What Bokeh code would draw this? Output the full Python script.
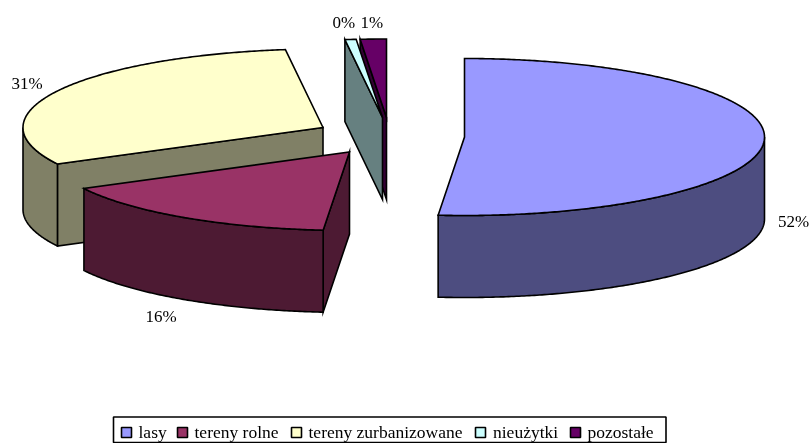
import math
from bokeh.plotting import figure
from bokeh.models import Range1d
from bokeh.core.properties import value
from bokeh.embed import file_html
from bokeh.resources import INLINE

# Data
categories = ["lasy", "tereny rolne", "tereny zurbanizowane", "nieużytki", "pozostałe"]
shares = [51.4, 15.9, 30.7, 0.6, 1.4]
labels = ["52%", "16%", "31%", "0%", "1%"]

# Style
top_colors = ["#9999FF", "#993366", "#FFFFCC", "#CCFFFF", "#660066"]
side_colors = ["#4D4D80", "#4D1A33", "#808066", "#668080", "#330033"]

# Layout: exploded slice centres, ellipse radii, depth
centers = [(464, 136.5), (349, 151.5), (322.5, 127), (382, 117), (386, 117)]
RX, RY, DEPTH = 300, 78.5, 82
label_pos = [(777.5, 221), (145, 316), (11, 83), (332, 22), (360, 22)]
legend_box = (113, 416.5, 665.5, 442)
swatch_x = [121, 177, 291, 475, 570]
legend_text_x = [138, 194, 308, 492.5, 587]
SWATCH = 10
FONT = "Liberation Serif"
LINE = 1.6

p = figure(width=809, height=443, output_backend="svg", toolbar_location=None,
           x_range=Range1d(0, 809), y_range=Range1d(443, 0),
           min_border=0, outline_line_color=None, background_fill_color="white",
           styles={"position": "fixed", "left": "0px", "top": "0px"})
p.axis.visible = False
p.grid.visible = False

total = sum(shares)
starts, ends = [], []
acc = 0.0
for s in shares:
    starts.append(acc / total * 360)
    acc += s
    ends.append(acc / total * 360)


def pt(c, deg, dz=0):
    t = math.radians(deg)
    return c[0] + RX * math.sin(t), c[1] - RY * math.cos(t) + dz


def arc(c, a, b, dz=0):
    n = max(2, int(abs(b - a)) * 2)
    return [pt(c, a + (b - a) * i / n, dz) for i in range(n + 1)]


def face(points, color):
    p.patch([q[0] for q in points], [q[1] for q in points], fill_color=color,
            line_color="black", line_width=LINE, line_join="miter")


def draw(i):
    c, a, b = centers[i], starts[i], ends[i]
    # radial wall along the slice's starting edge (faces the viewer for every slice but the first)
    if a > 0:
        o = pt(c, a)
        face([o, c, (c[0], c[1] + DEPTH), (o[0], o[1] + DEPTH)], side_colors[i])
    # outer wall on the front half of the ellipse
    lo, hi = max(a, 90), min(b, 270)
    if lo < hi:
        face(arc(c, lo, hi) + arc(c, hi, lo, DEPTH), side_colors[i])
    # top face
    face([c] + arc(c, a, b), top_colors[i])


for i in [2, 1, 0, 4, 3]:
    draw(i)

# Percentage labels
p.text([q[0] for q in label_pos], [q[1] for q in label_pos], text=labels,
       text_font=value(FONT), text_font_size="17px", text_color="black",
       text_align="left", text_baseline="middle")

# Legend
p.quad(left=[legend_box[0]], right=[legend_box[2]], top=[legend_box[1]], bottom=[legend_box[3]],
       fill_color="white", line_color="black", line_width=LINE)
p.quad(left=swatch_x, right=[x + SWATCH for x in swatch_x], top=[427] * 5, bottom=[437] * 5,
       fill_color=top_colors, line_color="black", line_width=LINE)
p.text(legend_text_x, [431] * 5, text=categories,
       text_font=value(FONT), text_font_size="17.5px", text_color="black",
       text_align="left", text_baseline="middle")

open("out.html", "w").write(file_html(p, INLINE))
